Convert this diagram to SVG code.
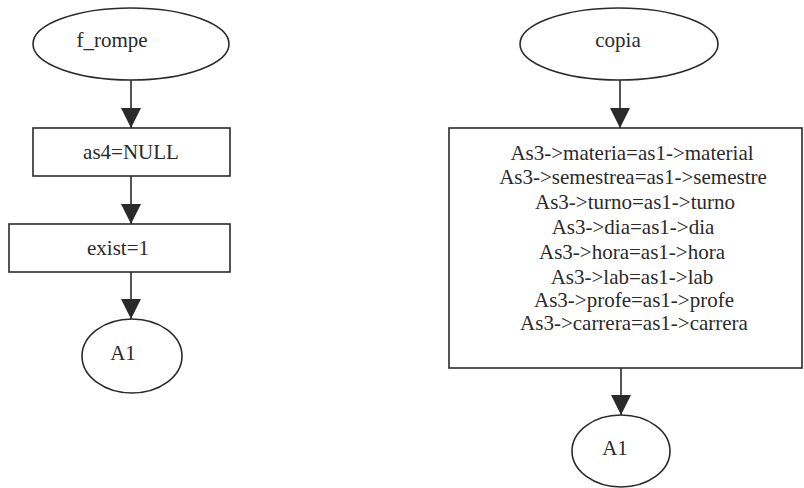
<svg xmlns="http://www.w3.org/2000/svg" width="804" height="488" viewBox="0 0 804 488">
  <style>
    .shape { fill: #ffffff; stroke: #2a2a2a; stroke-width: 1.6; }
    .label { font-family: "Liberation Serif", "Times New Roman", serif; font-size: 21px; fill: #2a2a2a; text-anchor: middle; }
    .flow { stroke: #2a2a2a; stroke-width: 1.6; fill: none; marker-end: url(#arrow); }
  </style>
  <defs>
    <marker id="arrow" viewBox="0 -10 20 20" refX="20" refY="0" markerWidth="20" markerHeight="20" markerUnits="userSpaceOnUse" orient="auto">
      <path d="M0,-10 L20,0 L0,10 z" fill="#2a2a2a"/>
    </marker>
  </defs>
  <rect width="804" height="488" fill="#ffffff"/>

  <!-- connectors -->
  <g id="connectors">
    <line class="flow" x1="131" y1="80" x2="131" y2="128"/>
    <line class="flow" x1="131" y1="176" x2="131" y2="224"/>
    <line class="flow" x1="131" y1="272" x2="131" y2="319"/>
    <line class="flow" x1="620" y1="80" x2="620" y2="128"/>
    <line class="flow" x1="621" y1="368" x2="621" y2="415"/>
  </g>

  <!-- left flow: f_rompe -->
  <g id="f_rompe">
    <ellipse class="shape" cx="131" cy="44" rx="98" ry="36"/>
    <text class="label" x="112" y="47">f_rompe</text>
  </g>
  <g id="as4_null">
    <rect class="shape" x="33" y="128" width="197" height="48"/>
    <text class="label" x="131" y="159">as4=NULL</text>
  </g>
  <g id="exist">
    <rect class="shape" x="9" y="224" width="221" height="48"/>
    <text class="label" x="118" y="255">exist=1</text>
  </g>
  <g id="a1_left">
    <ellipse class="shape" cx="132" cy="356" rx="50" ry="37"/>
    <text class="label" x="123" y="360">A1</text>
  </g>

  <!-- right flow: copia -->
  <g id="copia">
    <ellipse class="shape" cx="619" cy="44" rx="99" ry="36"/>
    <text class="label" x="618" y="47">copia</text>
  </g>
  <g id="assignments">
    <rect class="shape" x="449" y="128" width="353" height="240"/>
    <text class="label" x="632" y="160">As3-&gt;materia=as1-&gt;material</text>
    <text class="label" x="633" y="184">As3-&gt;semestrea=as1-&gt;semestre</text>
    <text class="label" x="635" y="209">As3-&gt;turno=as1-&gt;turno</text>
    <text class="label" x="633" y="234">As3-&gt;dia=as1-&gt;dia</text>
    <text class="label" x="632" y="259">As3-&gt;hora=as1-&gt;hora</text>
    <text class="label" x="632" y="284">As3-&gt;lab=as1-&gt;lab</text>
    <text class="label" x="634" y="307">As3-&gt;profe=as1-&gt;profe</text>
    <text class="label" x="634" y="330">As3-&gt;carrera=as1-&gt;carrera</text>
  </g>
  <g id="a1_right">
    <ellipse class="shape" cx="621" cy="451" rx="49" ry="36"/>
    <text class="label" x="615" y="455">A1</text>
  </g>
</svg>
